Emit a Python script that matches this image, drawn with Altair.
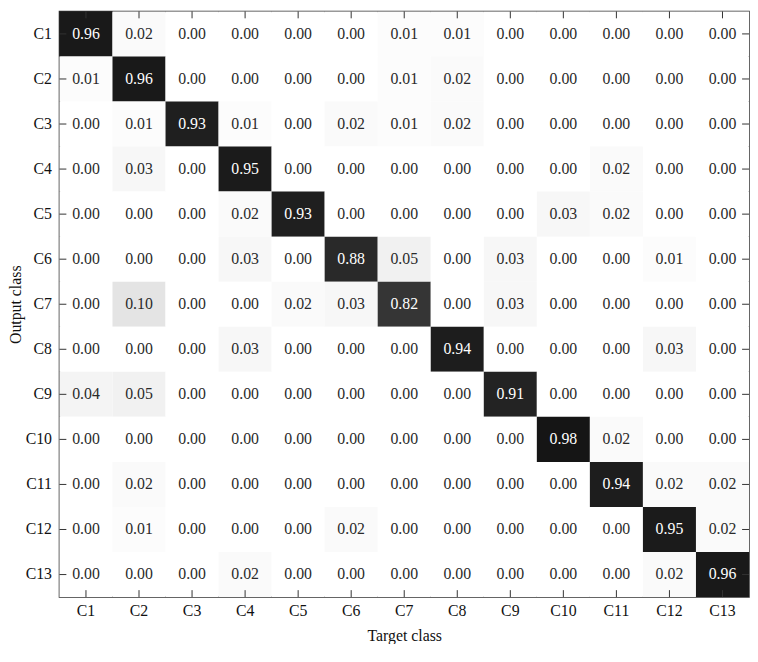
import altair as alt
import pandas as pd

classes = ["C1", "C2", "C3", "C4", "C5", "C6", "C7", "C8", "C9", "C10", "C11", "C12", "C13"]

matrix = [
    [0.96, 0.02, 0.00, 0.00, 0.00, 0.00, 0.01, 0.01, 0.00, 0.00, 0.00, 0.00, 0.00],
    [0.01, 0.96, 0.00, 0.00, 0.00, 0.00, 0.01, 0.02, 0.00, 0.00, 0.00, 0.00, 0.00],
    [0.00, 0.01, 0.93, 0.01, 0.00, 0.02, 0.01, 0.02, 0.00, 0.00, 0.00, 0.00, 0.00],
    [0.00, 0.03, 0.00, 0.95, 0.00, 0.00, 0.00, 0.00, 0.00, 0.00, 0.02, 0.00, 0.00],
    [0.00, 0.00, 0.00, 0.02, 0.93, 0.00, 0.00, 0.00, 0.00, 0.03, 0.02, 0.00, 0.00],
    [0.00, 0.00, 0.00, 0.03, 0.00, 0.88, 0.05, 0.00, 0.03, 0.00, 0.00, 0.01, 0.00],
    [0.00, 0.10, 0.00, 0.00, 0.02, 0.03, 0.82, 0.00, 0.03, 0.00, 0.00, 0.00, 0.00],
    [0.00, 0.00, 0.00, 0.03, 0.00, 0.00, 0.00, 0.94, 0.00, 0.00, 0.00, 0.03, 0.00],
    [0.04, 0.05, 0.00, 0.00, 0.00, 0.00, 0.00, 0.00, 0.91, 0.00, 0.00, 0.00, 0.00],
    [0.00, 0.00, 0.00, 0.00, 0.00, 0.00, 0.00, 0.00, 0.00, 0.98, 0.02, 0.00, 0.00],
    [0.00, 0.02, 0.00, 0.00, 0.00, 0.00, 0.00, 0.00, 0.00, 0.00, 0.94, 0.02, 0.02],
    [0.00, 0.01, 0.00, 0.00, 0.00, 0.02, 0.00, 0.00, 0.00, 0.00, 0.00, 0.95, 0.02],
    [0.00, 0.00, 0.00, 0.02, 0.00, 0.00, 0.00, 0.00, 0.00, 0.00, 0.00, 0.02, 0.96],
]

rows = []
for i, out in enumerate(classes):
    for j, tgt in enumerate(classes):
        rows.append({"out": out, "tgt": tgt, "v": matrix[i][j], "label": f"{matrix[i][j]:.2f}"})
df = pd.DataFrame(rows)
ticks = pd.DataFrame({"out": classes, "tgt": classes})

W, H = 697, 592
FONT = "Liberation Serif"
TL = 7

xenc = alt.X("tgt:N", sort=classes, title="Target class",
             scale=alt.Scale(paddingInner=0, paddingOuter=0),
             axis=alt.Axis(labelAngle=0, ticks=False, domain=False, labelPadding=6,
                           labelFontSize=16, titleFontSize=16, titlePadding=9,
                           labelFont=FONT, titleFont=FONT, labelColor="#111",
                           titleColor="#111", titleFontWeight="normal"))
yenc = alt.Y("out:N", sort=classes, title="Output class",
             scale=alt.Scale(paddingInner=0, paddingOuter=0),
             axis=alt.Axis(ticks=False, domain=False, labelPadding=8,
                           labelFontSize=16, titleFontSize=16, titlePadding=2,
                           labelFont=FONT, titleFont=FONT, labelColor="#111",
                           titleColor="#111", titleFontWeight="normal"))

heat = alt.Chart(df).mark_rect().encode(
    x=xenc, y=yenc,
    color=alt.Color("v:Q", scale=alt.Scale(domain=[0, 1], range=["#ffffff", "#111111"]), legend=None),
)

text = alt.Chart(df).mark_text(font=FONT, fontSize=16).encode(
    x=alt.X("tgt:N", sort=classes),
    y=alt.Y("out:N", sort=classes),
    text="label:N",
    color=alt.condition(alt.datum.v > 0.5, alt.value("#ffffff"), alt.value("#2a2a2a")),
)

tick_style = dict(color="#333333", strokeWidth=1)
left_ticks = alt.Chart(ticks).mark_rule(**tick_style).encode(
    y=alt.Y("out:N", sort=classes), x=alt.value(0), x2=alt.value(TL))
right_ticks = alt.Chart(ticks).mark_rule(**tick_style).encode(
    y=alt.Y("out:N", sort=classes), x=alt.value(W - TL), x2=alt.value(W))
bottom_ticks = alt.Chart(ticks).mark_rule(**tick_style).encode(
    x=alt.X("tgt:N", sort=classes), y=alt.value(H - TL), y2=alt.value(H))
top_ticks = alt.Chart(ticks).mark_rule(**tick_style).encode(
    x=alt.X("tgt:N", sort=classes), y=alt.value(0), y2=alt.value(TL))

chart = alt.layer(heat, text, left_ticks, right_ticks, bottom_ticks, top_ticks).properties(
    width=W, height=H,
    background="white",
    autosize=alt.AutoSizeParams(type="none"),
    padding={"left": 52, "top": 0, "right": 1, "bottom": 44},
).configure_view(stroke="#333333", strokeWidth=1.5)

chart.save("out.html", embed_options={"renderer": "svg", "actions": False})
